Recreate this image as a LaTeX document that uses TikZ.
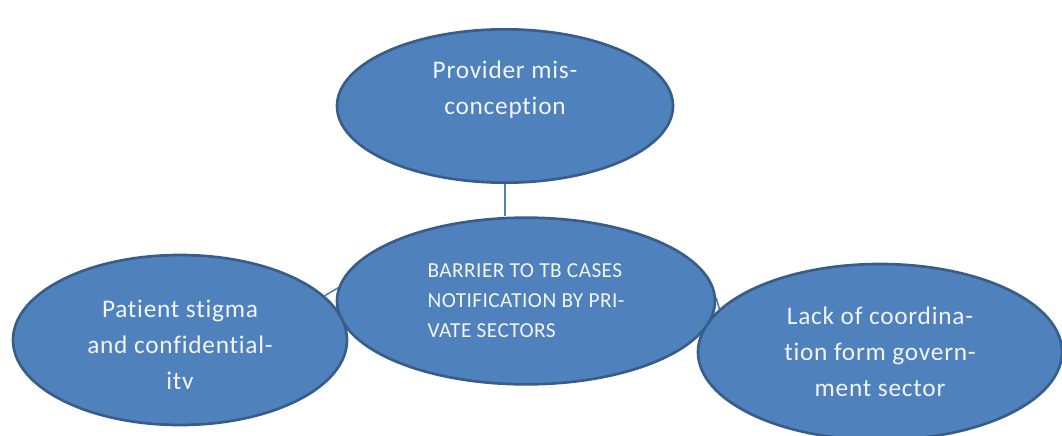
\documentclass[tikz,border=0pt]{standalone}
\usepackage{fontspec}
\setmainfont{Carlito}[Ligatures=NoCommon]
\usepackage{tikz}
\usetikzlibrary{shapes.geometric,backgrounds}
\definecolor{bFill}{HTML}{4F81BD}
\definecolor{bLine}{HTML}{385D8A}
\definecolor{bText}{HTML}{F2F5FB}
\tikzset{
 bubble/.style={ellipse, draw=bLine, fill=bFill, line width=2pt, inner sep=0pt, text=bText, align=center, font=\fontsize{19}{27}\selectfont\addfontfeature{LetterSpace=3}},
 hub/.style={bubble, align=left, font=\fontsize{16}{22.5}\selectfont\addfontfeature{LetterSpace=2}},
 link/.style={draw=bFill, line width=1.2pt}
}

\begin{document}
\begin{tikzpicture}[x=0.75pt,y=-0.75pt]
\useasboundingbox (0,0) rectangle (1062,435);
\node[bubble, minimum width=273pt, minimum height=132pt] (coord) at (880,352) {Lack of coordina-\\tion form govern-\\ment sector};
\node[hub, minimum width=283.5pt, minimum height=125pt] (barrier) at (526,301) {BARRIER TO TB CASES\\NOTIFICATION BY PRI-\\VATE SECTORS};
\node[bubble, minimum width=250.5pt, minimum height=127.5pt] (stigma) at (180,340) {};
\begin{scope}
\clip (0,0) rectangle (1062,388);
\node[bubble, draw=none, fill=none] (stigmatext) at (180,347) {Patient stigma\\and confidential-\\ity};
\end{scope}
\node[bubble, minimum width=252pt, minimum height=115pt] (provider) at (505,106) {Provider mis-\\conception\\\mbox{}};
\begin{scope}[on background layer]
\draw[link] (provider.south) -- (provider.south |- barrier.north);
\draw[link] (stigma.17) -- (barrier.176);
\draw[link] (barrier.1) -- (coord.165);
\end{scope}
\end{tikzpicture}
\end{document}
